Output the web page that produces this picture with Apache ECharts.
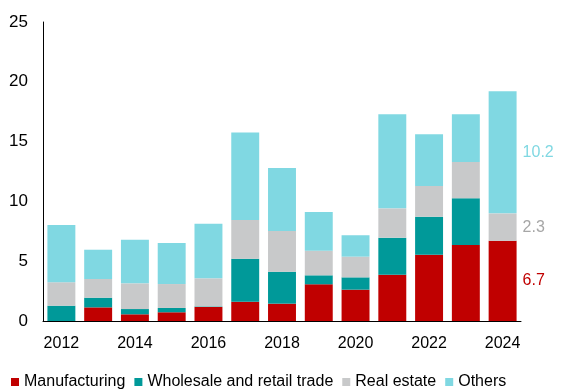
<!DOCTYPE html>
<html>
<head>
<meta charset="utf-8">
<script src="https://cdn.jsdelivr.net/npm/echarts@6/dist/echarts.min.js"></script>
<style>
  html, body { margin: 0; padding: 0; background: #fff; }
  #chart { width: 564px; height: 390px; }
</style>
</head>
<body>
<div id="chart"></div>
<script>
// Stacked contributions by sector, 2012–2024
var years = ['2012','2013','2014','2015','2016','2017','2018','2019','2020','2021','2022','2023','2024'];
var manufacturing = [-0.15, 1.14, 0.56, 0.73, 1.17, 1.61, 1.45, 3.07, 2.62, 3.87, 5.54, 6.35, 6.7];
var wholesaleRetail = [1.28, 0.81, 0.44, 0.36, 0.05, 3.6, 2.67, 0.75, 1.03, 3.1, 3.18, 3.91, 0];
var realEstate = [1.96, 1.56, 2.15, 2.0, 2.35, 3.23, 3.41, 2.06, 1.73, 2.45, 2.57, 3.03, 2.3];
var others = [4.79, 2.45, 3.65, 3.43, 4.57, 7.33, 5.26, 3.23, 1.79, 7.86, 4.32, 3.99, 10.2];
var yTicks = [0, 5, 10, 15, 20, 25];

var FONT = 'Liberation Sans, Arial, sans-serif';

function makeSeries(name, values, color, labelColor, showLastLabel) {
  return {
    name: name,
    type: 'bar',
    stack: 'total',
    barWidth: '76%',
    itemStyle: { color: color },
    emphasis: { disabled: true },
    data: values.map(function (v, i) {
      var d = { value: v };
      if (showLastLabel && i === values.length - 1) {
        d.label = {
          show: true,
          position: 'right',
          distance: 6,
          color: labelColor,
          fontFamily: FONT,
          fontSize: 16,
          formatter: function (p) { return p.value.toFixed(1); }
        };
      }
      return d;
    })
  };
}

var chart = echarts.init(document.getElementById('chart'), null, { renderer: 'canvas' });
chart.setOption({
  animation: false,
  grid: { left: 43, right: 43, top: 22, bottom: 69, containLabel: false },
  legend: {
    left: 11,
    top: 374,
    padding: 0,
    icon: 'rect',
    itemWidth: 8,
    itemHeight: 8,
    itemGap: 9,
    textStyle: { fontFamily: FONT, fontSize: 16, color: '#000' },
    data: ['Manufacturing', 'Wholesale and retail trade', 'Real estate', 'Others']
  },
  xAxis: {
    type: 'category',
    data: years,
    axisLine: { lineStyle: { color: '#000', width: 1 } },
    axisTick: { show: false },
    axisLabel: { interval: 1, color: '#000', fontFamily: FONT, fontSize: 16, margin: 15 }
  },
  yAxis: {
    type: 'value',
    min: yTicks[0],
    max: yTicks[yTicks.length - 1],
    interval: 5,
    axisLine: { show: true, lineStyle: { color: '#000', width: 1 } },
    axisTick: { show: false },
    splitLine: { show: false },
    axisLabel: { color: '#000', fontFamily: FONT, fontSize: 17, margin: 15 }
  },
  series: [
    makeSeries('Manufacturing', manufacturing, '#C00000', '#C00000', true),
    makeSeries('Wholesale and retail trade', wholesaleRetail, '#009999', '#009999', false),
    makeSeries('Real estate', realEstate, '#C8C9CA', '#A6A6A6', true),
    makeSeries('Others', others, '#80D8E2', '#80D8E2', true)
  ]
});
</script>
</body>
</html>
